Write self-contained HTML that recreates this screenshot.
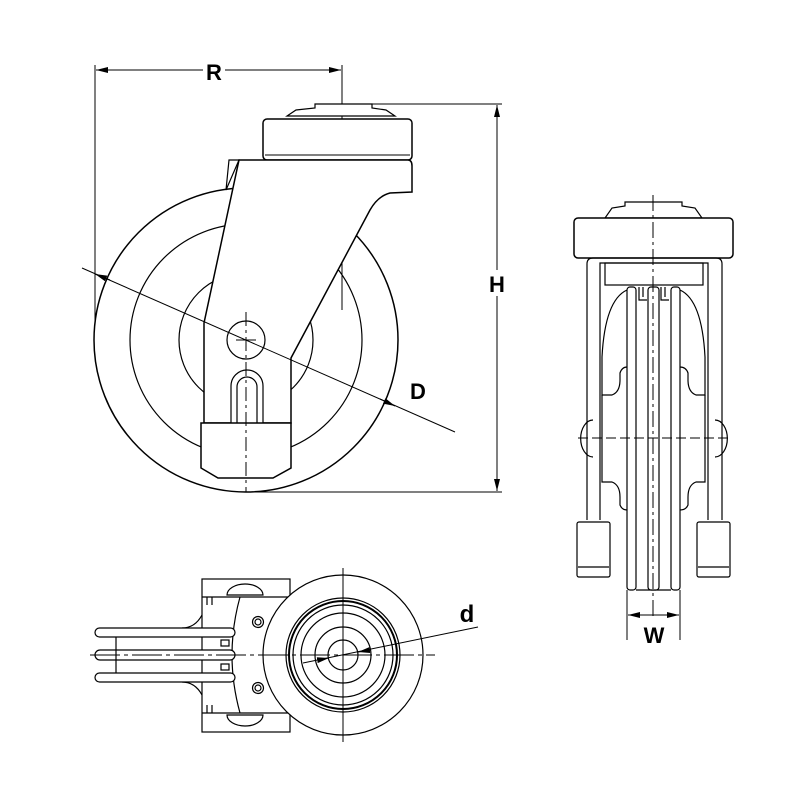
<!DOCTYPE html>
<html><head><style>body{margin:0;background:#fff}svg{display:block}</style></head><body>
<svg width="800" height="800" viewBox="0 0 800 800" xmlns="http://www.w3.org/2000/svg" fill="none" stroke="#000" stroke-width="1.2" font-family="Liberation Sans, sans-serif">
<defs><marker id="a" markerWidth="12" markerHeight="6" refX="12" refY="3" orient="auto-start-reverse" markerUnits="userSpaceOnUse"><path d="M0,0 L12,3 L0,6z" fill="#000" stroke="none"/></marker></defs>
<!-- SIDE VIEW -->
<line x1="95" y1="65" x2="95" y2="325" stroke-width="1"/>
<line x1="342" y1="65" x2="342" y2="310" stroke-width="1"/>
<line x1="96" y1="70" x2="341" y2="70" stroke-width="1" marker-start="url(#a)" marker-end="url(#a)"/>
<rect x="203" y="58" width="22" height="24" fill="#fff" stroke="none"/>
<text x="214" y="80" font-size="22" font-weight="bold" fill="#000" stroke="none" text-anchor="middle">R</text>
<circle cx="246" cy="340" r="152" stroke-width="1.5"/>
<circle cx="246" cy="340" r="116"/>
<circle cx="246" cy="340" r="67"/>
<!-- top plate -->
<path d="M315,104 L372,104 L372,108 L386,110 L395,116 L287,116 L296,110 L315,108Z" fill="#fff"/>
<line x1="372" y1="104" x2="502" y2="104" stroke-width="1"/>
<rect x="263" y="119" width="149" height="41" rx="4" fill="#fff" stroke-width="1.5"/>
<line x1="265" y1="155" x2="410" y2="155" stroke-width="1"/>
<!-- fork -->
<path d="M229,160 L239,160 L226,190Z" fill="#fff"/>
<path d="M239,160 L408,160 Q412,160 412,166 L412,192 L390,193 Q378,196 370,210 L291,358 L291,423 L204,423 L204,323 Z" fill="#fff" stroke-width="1.5"/>
<path d="M203,279 L171,298" stroke="none"/>
<!-- slot -->
<path d="M231,423 L231,386 A16,16 0 0 1 263,386 L263,423" fill="#fff"/>
<path d="M237,423 L237,387 A10,10 0 0 1 257,387 L257,423"/>
<circle cx="246" cy="340" r="19" fill="#fff"/>
<!-- pad -->
<path d="M201,423 L291,423 L291,468 L273,478 L218,478 L201,468Z" fill="#fff" stroke-width="1.5"/>
<line x1="246" y1="312" x2="246" y2="492" stroke-width="1" stroke-dasharray="14,4,3,4"/>
<line x1="236" y1="340" x2="256" y2="340" stroke-width="1"/>
<line x1="250" y1="492" x2="502" y2="492" stroke-width="1"/>
<line x1="497" y1="105" x2="497" y2="491" stroke-width="1" marker-start="url(#a)" marker-end="url(#a)"/>
<rect x="485" y="270" width="24" height="26" fill="#fff" stroke="none"/>
<text x="497" y="292" font-size="22" font-weight="bold" fill="#000" stroke="none" text-anchor="middle">H</text>
<line x1="82" y1="268" x2="455" y2="432" stroke-width="1"/>
<line x1="110" y1="280" x2="95" y2="274" marker-end="url(#a)" stroke-width="1"/>
<line x1="380" y1="399" x2="395" y2="406" marker-end="url(#a)" stroke-width="1"/>
<text x="418" y="399" font-size="22" font-weight="bold" fill="#000" stroke="none" text-anchor="middle">D</text>
<!-- FRONT VIEW -->
<path d="M625,202 L682,202 L682,206 L695,208 L702,218 L605,218 L612,208 L625,206Z" fill="#fff"/>
<rect x="574" y="218" width="159" height="40" rx="4" fill="#fff" stroke-width="1.5"/>
<path d="M587,520 L587,264 Q587,258 593,258 L716,258 Q722,258 722,264 L722,520"/>
<path d="M600,520 L600,263 L708,263 L708,520"/>
<rect x="605" y="263" width="98" height="22"/>
<path d="M627,290 Q605,300 602,357 L602,395 L612,395 Q620,392 620,380 L620,373 Q622,367 627,367" fill="#fff"/>
<path d="M680,290 Q702,300 705,357 L705,395 L696,395 Q688,392 688,380 L688,373 Q686,367 680,367" fill="#fff"/>
<path d="M602,395 L602,482 L612,482 Q620,485 620,497 L620,505 Q622,510 627,510 M705,395 L705,482 L696,482 Q688,485 688,497 L688,505 Q686,510 680,510"/>
<path d="M593,420 A12,18 0 0 0 593,457 M715,420 A12,18 0 0 1 715,457"/>
<line x1="636" y1="590" x2="671" y2="590"/>
<rect x="627" y="287" width="9" height="303" rx="3" fill="#fff"/>
<rect x="648" y="287" width="11" height="303" rx="3" fill="#fff"/>
<rect x="671" y="287" width="9" height="303" rx="3" fill="#fff"/>
<path d="M639,287 L639,300 L647,300 M661,287 L661,300 L669,300 M643,287 L643,297 M665,287 L665,297"/>
<rect x="577" y="522" width="33" height="55" rx="2" fill="#fff"/>
<line x1="578" y1="567" x2="609" y2="567"/>
<rect x="697" y="522" width="33" height="55" rx="2" fill="#fff"/>
<line x1="698" y1="567" x2="729" y2="567"/>
<line x1="653" y1="195" x2="653" y2="620" stroke-width="1" stroke-dasharray="16,4,3,4"/>
<line x1="578" y1="438" x2="730" y2="438" stroke-width="1" stroke-dasharray="10,4"/>
<line x1="627" y1="590" x2="627" y2="640" stroke-width="1"/>
<line x1="680" y1="590" x2="680" y2="640" stroke-width="1"/>
<line x1="628" y1="615" x2="679" y2="615" stroke-width="1" marker-start="url(#a)" marker-end="url(#a)"/>
<text x="654" y="643" font-size="22" font-weight="bold" fill="#000" stroke="none" text-anchor="middle">W</text>
<!-- BOTTOM VIEW -->
<rect x="202" y="579" width="88" height="153"/>
<path d="M202,597 L240,597 M202,713 L240,713 M207,597 L207,605 M212,597 L212,605 M207,713 L207,705 M212,713 L212,705"/>
<path d="M227,595 A18,11 0 0 1 263,595Z M227,715 A18,11 0 0 0 263,715Z" fill="#fff"/>
<path d="M240,597 Q224,655 240,713" fill="#fff"/>
<path d="M240,597 L290,597 M240,713 L290,713"/>
<path d="M202,615 Q195,628 182,628 M202,695 Q195,682 182,682"/>
<rect x="95" y="628" width="140" height="9" rx="4.5" fill="#fff"/>
<rect x="95" y="650" width="140" height="10" rx="5" fill="#fff"/>
<rect x="95" y="673" width="140" height="9" rx="4.5" fill="#fff"/>
<line x1="116" y1="637" x2="116" y2="673"/>
<rect x="221" y="640" width="8" height="6"/><rect x="221" y="664" width="8" height="6"/>
<circle cx="258" cy="622" r="5.5"/><circle cx="258" cy="622" r="3"/>
<circle cx="258" cy="688" r="5.5"/><circle cx="258" cy="688" r="3"/>
<circle cx="343" cy="655" r="80" fill="#fff"/>
<circle cx="343" cy="655" r="57"/>
<circle cx="343" cy="655" r="54" stroke-width="2"/>
<circle cx="343" cy="655" r="50"/>
<circle cx="343" cy="655" r="42"/>
<circle cx="343" cy="655" r="28"/>
<circle cx="343" cy="655" r="15"/>
<line x1="90" y1="655" x2="435" y2="655" stroke-width="1" stroke-dasharray="30,4,4,4"/>
<line x1="343" y1="568" x2="343" y2="742" stroke-width="1"/>
<line x1="303" y1="663" x2="478" y2="627" stroke-width="1"/>
<line x1="318" y1="660" x2="329" y2="658" stroke-width="1" marker-end="url(#a)"/>
<line x1="370" y1="650" x2="358" y2="652" stroke-width="1" marker-end="url(#a)"/>
<text x="467" y="622" font-size="24" font-weight="bold" fill="#000" stroke="none" text-anchor="middle">d</text>
</svg>
</body></html>
